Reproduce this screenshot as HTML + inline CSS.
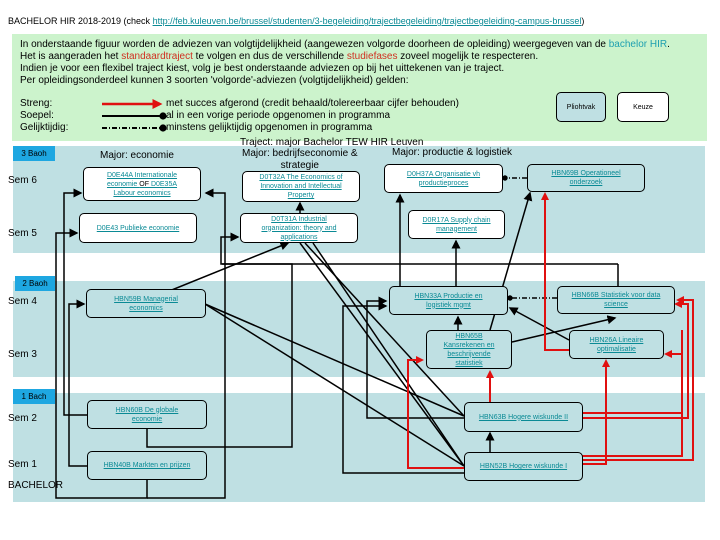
<!DOCTYPE html>
<html><head><meta charset="utf-8"><style>
body{margin:0;width:720px;height:540px;background:#fff;font-family:"Liberation Sans",sans-serif;overflow:hidden;position:relative}
.a{position:absolute;white-space:nowrap}
.t{font-size:10px;color:#000}
.box{position:absolute;border:1px solid #000;border-radius:5px;background:#bfe0e3;font-size:7px;color:#0a8a95;text-decoration:underline;text-align:center;display:flex;align-items:center;justify-content:center;line-height:9px;box-sizing:border-box}
.w{background:#fff}
.lbl{position:absolute;background:#1ea7e1;font-size:8px;color:#000;text-align:center;line-height:15px}
</style></head><body>
<div class="a t" style="left:8px;top:16px;font-size:9px">BACHELOR HIR 2018-2019 (check <span style="color:#0a8a95;text-decoration:underline">http://feb.kuleuven.be/brussel/studenten/3-begeleiding/trajectbegeleiding/trajectbegeleiding-campus-brussel</span>)</div>
<div class="a" style="left:12px;top:34px;width:695px;height:107px;background:#ccf3cc"></div>
<div class="a t" style="left:20px;top:39px;line-height:12px">In onderstaande figuur worden de adviezen van volgtijdelijkheid (aangewezen volgorde doorheen de opleiding) weergegeven van de <span style="color:#1ea0b0">bachelor HIR</span>.<br>Het is aangeraden het <span style="color:#d03020">standaardtraject</span> te volgen en dus de verschillende <span style="color:#d03020">studiefases</span> zoveel mogelijk te respecteren.<br>Indien je voor een flexibel traject kiest, volg je best onderstaande adviezen op bij het uittekenen van je traject.<br>Per opleidingsonderdeel kunnen 3 soorten 'volgorde'-adviezen (volgtijdelijkheid) gelden:</div>
<div class="a t" style="left:20px;top:98px;line-height:12px">Streng:<br>Soepel:<br>Gelijktijdig:</div>
<div class="a t" style="left:166px;top:98px;line-height:12px">met succes afgerond (credit behaald/tolereerbaar cijfer behouden)<br>al in een vorige periode opgenomen in programma<br>minstens gelijktijdig opgenomen in programma</div>
<div class="box" style="left:556px;top:92px;width:50px;height:30px;color:#000;text-decoration:none;font-size:7px">Pliohtvak</div>
<div class="box w" style="left:617px;top:92px;width:52px;height:30px;color:#000;text-decoration:none;font-size:7px">Keuze</div>
<div class="a" style="left:13px;top:146px;width:692px;height:107px;background:#bfe0e3"></div>
<div class="a" style="left:13px;top:281px;width:692px;height:96px;background:#bfe0e3"></div>
<div class="a" style="left:13px;top:393px;width:692px;height:109px;background:#bfe0e3"></div>
<div class="lbl" style="left:13px;top:146px;width:42px">3 Baoh</div>
<div class="lbl" style="left:15px;top:276px;width:40px">2 Baoh</div>
<div class="lbl" style="left:13px;top:389px;width:42px">1 Bach</div>
<div class="a t" style="left:240px;top:137px">Traject: major Bachelor TEW HIR Leuven</div>
<div class="a t" style="left:100px;top:150px">Major: economie</div>
<div class="a t" style="left:242px;top:148px;text-align:center;line-height:12px">Major: bedrijfseconomie &amp;<br>strategie</div>
<div class="a t" style="left:392px;top:147px">Major: productie &amp; logistiek</div>
<div class="a t" style="left:8px;top:175px">Sem 6</div>
<div class="a t" style="left:8px;top:228px">Sem 5</div>
<div class="a t" style="left:8px;top:296px">Sem 4</div>
<div class="a t" style="left:8px;top:349px">Sem 3</div>
<div class="a t" style="left:8px;top:413px">Sem 2</div>
<div class="a t" style="left:8px;top:459px">Sem 1</div>
<div class="a t" style="left:8px;top:480px">BACHELOR</div>
<svg class="a" style="left:0;top:0" width="720" height="540">
<defs>
<marker id="k" markerWidth="6" markerHeight="6" refX="5" refY="3" orient="auto"><path d="M0,0L6,3L0,6z" fill="#000"/></marker>
<marker id="r" markerWidth="4" markerHeight="4" refX="3" refY="2" orient="auto"><path d="M0,0L4,2L0,4z" fill="#e01010"/></marker>
<marker id="d" markerWidth="4" markerHeight="4" refX="2" refY="2"><circle cx="2" cy="2" r="1.8" fill="#000"/></marker>
</defs>
<g fill="none">
<line x1="102" y1="104" x2="160" y2="104" stroke="#e01010" stroke-width="2.5" marker-end="url(#r)"/>
<line x1="102" y1="116" x2="163" y2="116" stroke="#000" stroke-width="2" marker-end="url(#d)"/>
<line x1="102" y1="128" x2="163" y2="128" stroke="#000" stroke-width="2" stroke-dasharray="5,2,1,2" marker-end="url(#d)"/>
<g stroke="#000" stroke-width="1.5">
<polyline points="147,480 147,498 56,498 56,233 77,233" marker-end="url(#k)"/>
<polyline points="147,498 225,498 225,193 206,193" marker-end="url(#k)"/>
<polyline points="87,415 64,415 64,193 81,193" marker-end="url(#k)"/>
<polyline points="87,466 69,466 69,304 84,304" marker-end="url(#k)"/>
<polyline points="147,429 147,447 292,447 292,264 221,264 221,237 238,237" marker-end="url(#k)"/>
<line x1="147" y1="300" x2="288" y2="243" marker-end="url(#k)"/>
<line x1="222" y1="264" x2="618" y2="264"/>
<line x1="618" y1="264" x2="618" y2="286"/>
<line x1="205" y1="304" x2="464" y2="416"/>
<line x1="205" y1="304" x2="464" y2="466"/>
<line x1="300" y1="243" x2="464" y2="466"/>
<line x1="305" y1="243" x2="464" y2="416"/>
<line x1="313" y1="243" x2="464" y2="466"/>
<polyline points="464,418 367,418 367,301 386,301" marker-end="url(#k)"/>
<polyline points="464,473 343,473 343,306 386,306" marker-end="url(#k)"/>
<line x1="300" y1="214" x2="300" y2="203" marker-end="url(#k)"/>
<line x1="400" y1="286" x2="400" y2="195" marker-end="url(#k)"/>
<line x1="456" y1="286" x2="456" y2="241" marker-end="url(#k)"/>
<line x1="458" y1="330" x2="458" y2="317" marker-end="url(#k)"/>
<line x1="490" y1="330" x2="530" y2="193" marker-end="url(#k)"/>
<line x1="512" y1="342" x2="615" y2="318" marker-end="url(#k)"/>
<line x1="569" y1="340" x2="510" y2="308" marker-end="url(#k)"/>
<line x1="490" y1="452" x2="490" y2="433" marker-end="url(#k)"/>
<line x1="527" y1="178" x2="505" y2="178" stroke-dasharray="5,2,1,2" marker-end="url(#d)"/>
<line x1="557" y1="298" x2="510" y2="298" stroke-dasharray="5,2,1,2" marker-end="url(#d)"/>
</g>
<g stroke="#e01010" stroke-width="2">
<polyline points="464,468 408,468 408,360 422,360" marker-end="url(#r)"/>
<line x1="490" y1="402" x2="490" y2="372" marker-end="url(#r)"/>
<polyline points="582,464 606,464 606,361" marker-end="url(#r)"/>
<polyline points="582,456 682,456 682,354 666,354" marker-end="url(#r)"/>
<polyline points="582,413 682,413 682,330" />
<polyline points="582,418 688,418 688,304 676,304" marker-end="url(#r)"/>
<polyline points="582,460 693,460 693,300 678,300" marker-end="url(#r)"/>
<polyline points="569,350 545,350 545,194" marker-end="url(#r)"/>
</g>
</g>
</svg>
<div class="box w" style="left:83px;top:167px;width:118px;height:34px"><div>D0E44A Internationale<br>economie <span style="color:#000;text-decoration:none">OF</span> D0E35A<br>Labour economics</div></div>
<div class="box w" style="left:79px;top:213px;width:118px;height:30px">D0E43 Publieke economie</div>
<div class="box w" style="left:242px;top:171px;width:118px;height:31px">D0T32A The Economics of<br>Innovation and Intellectual<br>Property</div>
<div class="box w" style="left:240px;top:213px;width:118px;height:30px">D0T31A Industrial<br>organization: theory and<br>applications</div>
<div class="box w" style="left:384px;top:164px;width:119px;height:29px">D0H37A Organisatie vh<br>productieproces</div>
<div class="box" style="left:527px;top:164px;width:118px;height:28px">HBN69B Operationeel<br>onderzoek</div>
<div class="box w" style="left:408px;top:210px;width:97px;height:29px">D0R17A Supply chain<br>management</div>
<div class="box" style="left:86px;top:289px;width:120px;height:29px">HBN59B Managerial<br>economics</div>
<div class="box" style="left:389px;top:286px;width:119px;height:29px">HBN33A Productie en<br>logistiek mgmt</div>
<div class="box" style="left:557px;top:286px;width:118px;height:28px">HBN66B Statistiek voor data<br>science</div>
<div class="box" style="left:426px;top:330px;width:86px;height:39px">HBN65B<br>Kansrekenen en<br>beschrijvende<br>statistiek</div>
<div class="box" style="left:569px;top:330px;width:95px;height:29px">HBN26A Lineaire<br>optimalisatie</div>
<div class="box" style="left:87px;top:400px;width:120px;height:29px">HBN60B De globale<br>economie</div>
<div class="box" style="left:464px;top:402px;width:119px;height:30px">HBN63B Hogere wiskunde II</div>
<div class="box" style="left:87px;top:451px;width:120px;height:29px">HBN40B Markten en prijzen</div>
<div class="box" style="left:464px;top:452px;width:119px;height:29px">HBN52B Hogere wiskunde I</div>
</body></html>
